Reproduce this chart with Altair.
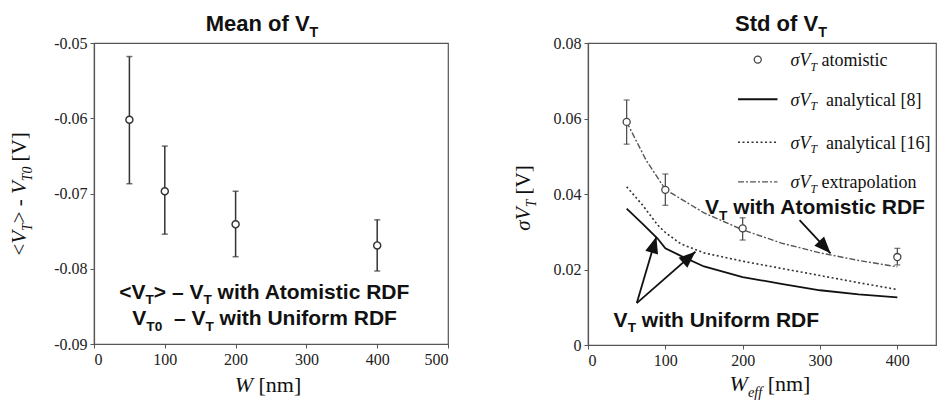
import math
import altair as alt
import pandas as pd

# ---------------- data ----------------
W_pts = [50, 100, 200, 400]
mean_V = [-0.0602, -0.0697, -0.0741, -0.0769]
mean_hi = [-0.0518, -0.0637, -0.0697, -0.0735]
mean_lo = [-0.0687, -0.0754, -0.0784, -0.0803]

std_V = [0.0591, 0.0411, 0.0309, 0.0233]
std_hi = [0.0649, 0.0453, 0.0337, 0.0256]
std_lo = [0.0532, 0.0370, 0.0278, 0.0212]

curve_W = [50, 70, 90, 100, 120, 150, 200, 250, 300, 350, 400]
ana8 = [0.0361, 0.0322, 0.0282, 0.0256, 0.0236, 0.0208, 0.0180, 0.0162, 0.0145, 0.0134, 0.0126]
ana16 = [0.0419, 0.0372, 0.0318, 0.0298, 0.0268, 0.0244, 0.0222, 0.0203, 0.0184, 0.0165, 0.0147]
extrap_W = [50, 75, 100, 150, 200, 250, 300, 350, 400]
extrap = [0.0591, 0.0490, 0.0412, 0.0350, 0.0305, 0.0270, 0.0244, 0.0224, 0.0207]

legend_V = [0.0756, 0.0651, 0.0537, 0.0432]
legend_labels = [" atomistic", "  analytical [8]", "  analytical [16]", " extrapolation"]

# arrows: (tail W, tail V, tip W, tip V)
arrows = [(273.6, 0.0331, 313.6, 0.0243),
          (63.1, 0.0111, 88.4, 0.0287),
          (63.1, 0.0111, 138.9, 0.0247)]

# ---------------- layout / style ----------------
WL, HL = 354, 301
WR, HR = 348, 302
XL_DOM, YL_DOM = [0, 500], [-0.09, -0.05]
XR_DOM, YR_DOM = [0, 450], [0, 0.08]
TXT = "#111111"
AX = "#555555"
SANS = "Liberation Sans"
SERIF = "Liberation Serif"
SUB = 0.65

ARIAL_B = {' ': 278, '<': 584, '>': 584, '–': 556, '-': 333, 'A': 722, 'D': 722, 'F': 611,
           'M': 833, 'R': 722, 'S': 667, 'T': 611, 'U': 722, 'V': 667, 'a': 556, 'c': 556,
           'd': 611, 'e': 556, 'f': 333, 'h': 611, 'i': 278, 'm': 889, 'n': 611, 'o': 611,
           'r': 389, 's': 556, 't': 333, 'w': 778, '0': 556}
TIMES = {' ': 250, '<': 564, '>': 564, '-': 333, '[': 333, ']': 333, 'V': 722, 'a': 444,
         'c': 444, 'e': 444, 'i': 278, 'l': 278, 'm': 778, 'n': 500, 'o': 500, 'p': 500,
         'r': 333, 's': 389, 't': 278, 'x': 500, 'y': 500, '0': 500, '1': 500, '6': 500, '8': 500}
TIMES_I = {' ': 250, 'V': 611, 'W': 833, 'T': 556, 'e': 444, 'f': 278, 'σ': 500, '0': 500}

one = pd.DataFrame({"z": [0]})


def width(t, fam, ital, fs):
    if fam == SANS:
        tbl = ARIAL_B
    else:
        tbl = TIMES_I if ital else TIMES
    return sum(tbl.get(c, 500) for c in t) / 1000.0 * fs


def rich(parts, base, fam, bold, anchor, xs, ys, axx, axy, angle=0, align="center"):
    ws = []
    for t, it, sub in parts:
        fs = base * SUB if sub else base
        ws.append(width(t, fam, it, fs))
    cur = -sum(ws) / 2 if align == "center" else 0
    out = []
    for (t, it, sub), w in zip(parts, ws):
        fs = base * SUB if sub else base
        lead = len(t) - len(t.lstrip(" "))
        shown = t.strip(" ")
        off = width(" " * lead, fam, it, fs)
        dy = 0.35 * base + (0.27 * base if sub else 0)
        mk = dict(text=shown, font=fam, fontSize=fs, fontWeight="bold" if bold else "normal",
                  fontStyle="italic" if it else "normal", align="left",
                  baseline="alphabetic", dx=cur + off, dy=dy, color=TXT)
        if angle:
            mk["angle"] = angle
        if anchor[0] == "px":
            c = alt.Chart(one).mark_text(**mk).encode(x=alt.value(anchor[1]), y=alt.value(anchor[2]))
        else:
            df = pd.DataFrame({"W": [anchor[1]], "V": [anchor[2]]})
            c = alt.Chart(df).mark_text(**mk).encode(
                x=alt.X("W:Q", scale=xs, axis=axx), y=alt.Y("V:Q", scale=ys, axis=axy))
        out.append(c)
        cur += w
    return out


AXCOMMON = dict(title=None, grid=False, labelFont=SERIF, labelFontSize=16, labelColor="#222",
                tickColor=AX, tickSize=4, domainColor=AX, domainWidth=1.2, labelPadding=3)

# ---------------- left panel ----------------
xsL = alt.Scale(domain=XL_DOM, nice=False)
ysL = alt.Scale(domain=YL_DOM, nice=False, zero=False)
axXL = alt.Axis(values=[0, 100, 200, 300, 400, 500], format="d", **AXCOMMON)
axYL = alt.Axis(values=[-0.09, -0.08, -0.07, -0.06, -0.05],
                labelExpr="datum.value < 0 ? '-' + format(-datum.value, '.2f') : format(datum.value, '.2f')",
                **AXCOMMON)

dfL = pd.DataFrame({"W": W_pts, "V": mean_V, "lo": mean_lo, "hi": mean_hi})
baseL = alt.Chart(dfL)
errL = baseL.mark_rule(color="#333", strokeWidth=1.5).encode(
    x=alt.X("W:Q", scale=xsL, axis=axXL), y=alt.Y("lo:Q", scale=ysL, axis=axYL), y2="hi:Q")
capL1 = baseL.mark_tick(color="#333", size=6, thickness=1.5, orient="horizontal").encode(
    x=alt.X("W:Q", scale=xsL, axis=axXL), y=alt.Y("hi:Q", scale=ysL, axis=axYL))
capL2 = baseL.mark_tick(color="#333", size=6, thickness=1.5, orient="horizontal").encode(
    x=alt.X("W:Q", scale=xsL, axis=axXL), y=alt.Y("lo:Q", scale=ysL, axis=axYL))
ptL = baseL.mark_point(shape="circle", size=50, filled=False, fill="white", fillOpacity=1,
                       stroke="#333", strokeWidth=1.4, opacity=1).encode(
    x=alt.X("W:Q", scale=xsL, axis=axXL), y=alt.Y("V:Q", scale=ysL, axis=axYL))

L = dict(xs=xsL, ys=ysL, axx=axXL, axy=axYL)
layersL = [errL, capL1, capL2, ptL]
layersL += rich([("Mean of V", False, False), ("T", False, True)], 22, SANS, True, ("px", 168, -20), **L)
layersL += rich([("<", False, False), ("V", True, False), ("T", True, True), ("> - ", False, False),
                 ("V", True, False), ("T0", True, True), (" [V]", False, False)],
                21, SERIF, False, ("px", -75, 151), angle=270, **L)
layersL += rich([("W", True, False), (" [nm]", False, False)], 22, SERIF, False, ("px", 174, 341), **L)
layersL += rich([("<V", False, False), ("T", False, True), ("> – V", False, False), ("T", False, True),
                 (" with Atomistic RDF", False, False)], 21, SANS, True, ("data", 241, -0.0830), **L)
layersL += rich([("V", False, False), ("T0", False, True), ("  – V", False, False), ("T", False, True),
                 (" with Uniform RDF", False, False)], 21, SANS, True, ("data", 241, -0.0865), **L)

left = alt.layer(*layersL).properties(width=WL, height=HL)

# ---------------- right panel ----------------
xsR = alt.Scale(domain=XR_DOM, nice=False)
ysR = alt.Scale(domain=YR_DOM, nice=False)
axXR = alt.Axis(values=[0, 100, 200, 300, 400], format="d", **AXCOMMON)
axYR = alt.Axis(values=[0, 0.02, 0.04, 0.06, 0.08],
                labelExpr="datum.value == 0 ? '0' : format(datum.value, '.2f')", **AXCOMMON)


def XR(f="W"):
    return alt.X(f + ":Q", scale=xsR, axis=axXR)


def YR(f="V"):
    return alt.Y(f + ":Q", scale=ysR, axis=axYR)


df8 = pd.DataFrame({"W": curve_W, "V": ana8})
df16 = pd.DataFrame({"W": curve_W, "V": ana16})
dfEx = pd.DataFrame({"W": extrap_W, "V": extrap})
dfR = pd.DataFrame({"W": W_pts, "V": std_V, "lo": std_lo, "hi": std_hi})

S8 = dict(color="#111", strokeWidth=1.8)
S16 = dict(color="#333", strokeWidth=1.6, strokeDash=[2, 2.5])
SEX = dict(color="#555", strokeWidth=1.4, strokeDash=[6, 2, 2, 2])

line8 = alt.Chart(df8).mark_line(**S8).encode(x=XR(), y=YR())
line16 = alt.Chart(df16).mark_line(**S16).encode(x=XR(), y=YR())
lineEx = alt.Chart(dfEx).mark_line(**SEX).encode(x=XR(), y=YR())

errR = alt.Chart(dfR).mark_rule(color="#444", strokeWidth=1.2).encode(x=XR(), y=YR("lo"), y2="hi:Q")
capR1 = alt.Chart(dfR).mark_tick(color="#444", size=6, thickness=1.3, orient="horizontal").encode(x=XR(), y=YR("hi"))
capR2 = alt.Chart(dfR).mark_tick(color="#444", size=6, thickness=1.3, orient="horizontal").encode(x=XR(), y=YR("lo"))
ptR = alt.Chart(dfR).mark_point(shape="circle", size=50, filled=False, fill="white", fillOpacity=1,
                                stroke="#444", strokeWidth=1.3, opacity=1).encode(x=XR(), y=YR())

# legend (drawn inside the plot, as in the original)
LEG_X0, LEG_X1, LEG_TX = 194, 245, 262
legPt = alt.Chart(pd.DataFrame({"W": [(LEG_X0 + LEG_X1) / 2], "V": [legend_V[0]]})).mark_point(
    shape="circle", size=50, filled=False, stroke="#444", strokeWidth=1.3, opacity=1).encode(x=XR(), y=YR())


def leg_line(v, style):
    d = pd.DataFrame({"W": [LEG_X0, LEG_X1], "V": [v, v]})
    return alt.Chart(d).mark_line(**style).encode(x=XR(), y=YR())


legL8 = leg_line(legend_V[1], S8)
legL16 = leg_line(legend_V[2], S16)
legLEx = leg_line(legend_V[3], SEX)

# arrows
sx = WR / (XR_DOM[1] - XR_DOM[0])
sy = HR / (YR_DOM[1] - YR_DOM[0])
arr_rows = []
for (w0, v0, w1, v1) in arrows:
    dxs = (w1 - w0) * sx
    dys = -(v1 - v0) * sy
    ang = math.degrees(math.atan2(dxs, -dys)) % 360
    arr_rows.append({"W": w0, "V": v0, "W2": w1, "V2": v1, "ang": ang})
dfA = pd.DataFrame(arr_rows)
shaft = alt.Chart(dfA).mark_rule(color="#111", strokeWidth=1.8).encode(
    x=XR(), y=YR(), x2="W2:Q", y2="V2:Q")
heads = alt.Chart(dfA).mark_point(shape="M0,0L-0.4,1L0.4,1Z", size=1100, filled=True,
                                  color="#111", opacity=1).encode(
    x=XR("W2"), y=YR("V2"), angle=alt.Angle("ang:Q", scale=None))

R = dict(xs=xsR, ys=ysR, axx=axXR, axy=axYR)
layersR = [line8, line16, lineEx, errR, capR1, capR2, ptR, legPt, legL8, legL16, legLEx, shaft, heads]
layersR += rich([("Std of V", False, False), ("T", False, True)], 22, SANS, True, ("px", 193, -20), **R)
layersR += rich([("σV", True, False), ("T", True, True), (" [V]", False, False)],
                21, SERIF, False, ("px", -65, 155), angle=270, **R)
layersR += rich([("W", True, False), ("eff", True, True), (" [nm]", False, False)],
                22, SERIF, False, ("px", 182, 340), **R)
for v, lab in zip(legend_V, legend_labels):
    layersR += rich([("σV", True, False), ("T", True, True), (lab, False, False)], 18, SERIF, False,
                    ("data", LEG_TX, v), align="left", **R)
layersR += rich([("V", False, False), ("T", False, True), (" with Atomistic RDF", False, False)],
                21, SANS, True, ("data", 294, 0.0366), **R)
layersR += rich([("V", False, False), ("T", False, True), (" with Uniform RDF", False, False)],
                21, SANS, True, ("data", 166, 0.0068), **R)

right = alt.layer(*layersR).properties(width=WR, height=HR)

chart = alt.hconcat(left, right, spacing=62).properties(
    background="white", padding={"top": 4, "left": 0, "right": 0, "bottom": 0}
).configure_view(
    stroke=AX, strokeWidth=1.2
).configure_axis(grid=False, labelFont=SERIF, labelFontSize=16)

chart.save("out.html", embed_options={"renderer": "svg", "actions": False})
